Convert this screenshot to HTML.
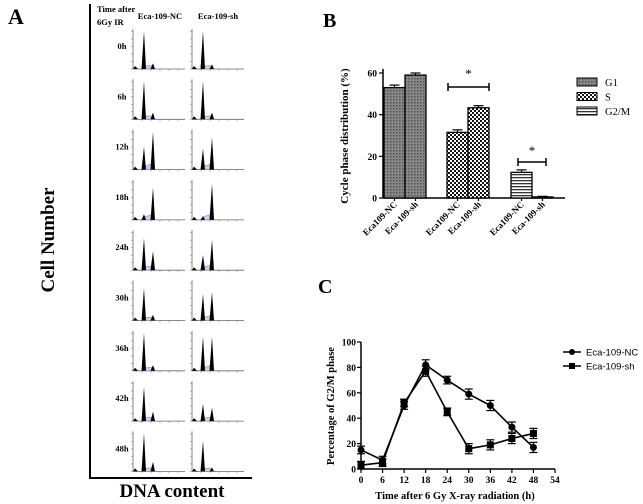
<!DOCTYPE html>
<html><head><meta charset="utf-8">
<style>
html,body{margin:0;padding:0;background:#fff;}
svg{display:block;font-family:"Liberation Serif",serif;}
</style></head>
<body>
<svg id="fig" width="643" height="504" viewBox="0 0 643 504">
<g id="panelA">
  <text x="8" y="24" font-size="22" font-weight="bold">A</text>
  <line x1="90" y1="4" x2="90" y2="479" stroke="#000" stroke-width="2"/>
  <line x1="89" y1="478" x2="252" y2="478" stroke="#000" stroke-width="2"/>
  <text transform="translate(54,240) rotate(-90)" text-anchor="middle" font-size="19" font-weight="bold">Cell Number</text>
  <text x="172" y="497" text-anchor="middle" font-size="19" font-weight="bold">DNA content</text>
  <text x="97" y="12" font-size="8.5" font-weight="bold">Time after</text>
  <text x="97" y="25" font-size="8.5" font-weight="bold">6Gy IR</text>
  <text x="160" y="19" text-anchor="middle" font-size="8.5" font-weight="bold">Eca-109-NC</text>
  <text x="218" y="19" text-anchor="middle" font-size="8.5" font-weight="bold">Eca-109-sh</text>
</g>
<g id="panelB">
  <text x="323" y="27" font-size="20" font-weight="bold">B</text>
</g>
<g id="panelC">
  <text x="318" y="293" font-size="20" font-weight="bold">C</text>
</g>
<defs>
  <pattern id="pG1" width="3" height="3" patternUnits="userSpaceOnUse"><rect width="3" height="3" fill="#888"/><rect width="1.5" height="1.5" fill="#555"/></pattern>
  <pattern id="pS" width="4" height="4" patternUnits="userSpaceOnUse"><rect width="4" height="4" fill="#fff"/><rect width="2" height="2" fill="#111"/><rect x="2" y="2" width="2" height="2" fill="#111"/></pattern>
  <pattern id="pG2" width="3" height="3" patternUnits="userSpaceOnUse"><rect width="3" height="3" fill="#fff"/><rect width="3" height="1.3" fill="#333"/></pattern>
</defs>
</svg>
<script>
// ---------- Panel A data ----------
var timeLabels = ["0h","6h","12h","18h","24h","30h","36h","42h","48h"];
var g1NC = [1.0,1.0,0.6,0.15,0.85,0.85,1.0,0.9,1.0];
var g2NC = [0.15,0.18,1.0,0.85,0.5,0.15,0.15,0.25,0.25];
var g1SH = [1.0,1.0,0.55,0.1,0.4,0.7,0.9,0.45,0.8];
var g2SH = [0.12,0.18,0.85,0.95,0.8,0.75,0.9,0.35,0.1];

// ---------- Panel B data ----------
var bCats = ["Eca109-NC","Eca-109-sh"];
var bPhases = ["G1","S","G2/M"];
var bNC = [53, 31.5, 12.3];
var bSH = [59, 43.3, 0.5];
var bErrNC = [1.2, 1.2, 1.2];
var bErrSH = [1.0, 1.0, 0.3];
var bTicks = [0,20,40,60];

// ---------- Panel C data ----------
var cTimes = [0,6,12,18,24,30,36,42,48];
var cNC = [15,7,50,82,70,59,50,33,17];
var cSH = [3,5,52,77,45,16,19,24,28];
var cErr = [3,3,3,4,3,4,4,4,4];
var cXTicks = [0,6,12,18,24,30,36,42,48,54];
var cYTicks = [0,20,40,60,80,100];

var NS = "http://www.w3.org/2000/svg";
function mk(tag, attrs, parent){
  var e = document.createElementNS(NS, tag);
  for (var k in attrs) e.setAttribute(k, attrs[k]);
  (parent || document.getElementById('fig')).appendChild(e);
  return e;
}

// ---------- Panel A histograms ----------
var gA = document.getElementById('panelA');
function hist(x0, y0, h1, h2, name){
  var g = mk('g', {}, gA);
  
  
  var H = 38, base = y0 + 42, w = 52;
  mk('line',{x1:x0,y1:y0+2,x2:x0,y2:base,stroke:'#666','stroke-width':0.8},g);
  mk('line',{x1:x0,y1:base,x2:x0+w,y2:base,stroke:'#666','stroke-width':0.8},g);
  for (var t=0;t<6;t++){ mk('line',{x1:x0-2,y1:base-t*7.5,x2:x0,y2:base-t*7.5,stroke:'#888','stroke-width':0.6},g); }
  for (var t=1;t<6;t++){ mk('line',{x1:x0+t*9,y1:base,x2:x0+t*9,y2:base+2,stroke:'#888','stroke-width':0.6},g); }
  var p1 = x0+11, p2 = x0+20;
  mk('path',{d:'M'+(p1)+' '+(base-3)+' L'+(p2)+' '+(base-3-3*h2)+' L'+p2+' '+base+' L'+p1+' '+base+'Z',fill:'#c7d3ea',stroke:'#7b8fc4','stroke-width':0.6},g);
  mk('path',{d:'M'+(p1-2.5)+' '+base+' L'+p1+' '+(base-H*h1)+' L'+(p1+2)+' '+base+'Z',fill:'#000'},g);
  mk('path',{d:'M'+(p2-2.5)+' '+base+' L'+p2+' '+(base-H*h2)+' L'+(p2+2)+' '+base+'Z',fill:'#000'},g);
  mk('path',{d:'M'+x0+' '+base+' L'+(x0+2)+' '+(base-3)+' L'+(x0+5)+' '+base+'Z',fill:'#000'},g);
}
for (var i=0;i<timeLabels.length;i++){
  var y0 = 27 + 50.3*i;
  var t = mk('text',{x:122,y:y0+22,'text-anchor':'middle','font-size':8.5,'font-weight':'bold'},gA);
  t.textContent = timeLabels[i];
  
  
  hist(133, y0, g1NC[i], g2NC[i], 'histogram-nc-'+timeLabels[i]);
  hist(192, y0, g1SH[i], g2SH[i], 'histogram-sh-'+timeLabels[i]);
}

// ---------- Panel B ----------
var gB = document.getElementById('panelB');
var bx0 = 383, by0 = 198, bScale = 125/60;
function by(v){ return by0 - v*bScale; }
mk('line',{x1:bx0,y1:by(62),x2:bx0,y2:by0,stroke:'#000','stroke-width':1.5},gB);
mk('line',{x1:bx0,y1:by0,x2:565,y2:by0,stroke:'#000','stroke-width':1.5},gB);
bTicks.forEach(function(v){
  mk('line',{x1:bx0-4,y1:by(v),x2:bx0,y2:by(v),stroke:'#000','stroke-width':1.2},gB);
  var t = mk('text',{x:bx0-6,y:by(v)+3.5,'text-anchor':'end','font-size':9.5,'font-weight':'bold'},gB);
  t.textContent = v;
  
  
});
var yt = mk('text',{transform:'translate(348,136) rotate(-90)','text-anchor':'middle','font-size':11,'font-weight':'bold'},gB);
yt.textContent = 'Cycle  phase distribution (%)';


var fills = ['url(#pG1)','url(#pS)','url(#pG2)'];
var groupX = [384, 447, 511], bw = 21;
for (var p=0;p<3;p++){
  var vals = [bNC[p], bSH[p]], errs = [bErrNC[p], bErrSH[p]];
  for (var c=0;c<2;c++){
    var x = groupX[p] + c*bw;
    var r = mk('rect',{x:x,y:by(vals[c]),width:bw,height:by0-by(vals[c]),fill:fills[p],stroke:'#000','stroke-width':1.3},gB);
    
    
    var barCx = x + bw/2;
    mk('line',{x1:barCx,y1:by(vals[c]+errs[c]),x2:barCx,y2:by(vals[c]),stroke:'#000','stroke-width':1.2},gB);
    mk('line',{x1:barCx-5,y1:by(vals[c]+errs[c]),x2:barCx+5,y2:by(vals[c]+errs[c]),stroke:'#000','stroke-width':1.2},gB);
    mk('line',{x1:barCx,y1:by0,x2:barCx,y2:by0+3,stroke:'#000','stroke-width':1.2},gB);
    var lt = mk('text',{transform:'translate('+(barCx+3)+','+(by0+7)+') rotate(-45)','text-anchor':'end','font-size':9,'font-weight':'bold'},gB);
    lt.textContent = bCats[c];
    
    
  }
}
[[448,489,87,69],[518,546,162,146]].forEach(function(s,i){
  mk('line',{x1:s[0],y1:s[2],x2:s[1],y2:s[2],stroke:'#000','stroke-width':1.5},gB);
  mk('line',{x1:s[0],y1:s[2]-4,x2:s[0],y2:s[2]+4,stroke:'#000','stroke-width':1.5},gB);
  mk('line',{x1:s[1],y1:s[2]-4,x2:s[1],y2:s[2]+4,stroke:'#000','stroke-width':1.5},gB);
  var st = mk('text',{x:(s[0]+s[1])/2,y:s[3]+9,'text-anchor':'middle','font-size':13},gB);
  st.textContent = '*';
  
  
});
bPhases.forEach(function(ph,i){
  var y = 78 + i*14.5;
  mk('rect',{x:577,y:y,width:20,height:8,fill:fills[i],stroke:'#000','stroke-width':1},gB);
  var t = mk('text',{x:605,y:y+8,'font-size':10.5},gB);
  t.textContent = ph;
  
  
});

// ---------- Panel C ----------
var gC = document.getElementById('panelC');
function xC(v){ return 361 + v*(194/54); }
function yC(v){ return 469 - v*1.27; }
mk('line',{x1:xC(0),y1:yC(100),x2:xC(0),y2:yC(0),stroke:'#000','stroke-width':1.5},gC);
mk('line',{x1:xC(0),y1:yC(0),x2:xC(54),y2:yC(0),stroke:'#000','stroke-width':1.5},gC);
cYTicks.forEach(function(v){
  mk('line',{x1:xC(0)-4,y1:yC(v),x2:xC(0),y2:yC(v),stroke:'#000','stroke-width':1.2},gC);
  var t = mk('text',{x:xC(0)-5,y:yC(v)+3.5,'text-anchor':'end','font-size':9.5,'font-weight':'bold'},gC);
  t.textContent = v;
  
  
});
cXTicks.forEach(function(v){
  mk('line',{x1:xC(v),y1:yC(0),x2:xC(v),y2:yC(0)+4,stroke:'#000','stroke-width':1.2},gC);
  var t = mk('text',{x:xC(v),y:yC(0)+14,'text-anchor':'middle','font-size':9.5,'font-weight':'bold'},gC);
  t.textContent = v;
  
  
});
var xt = mk('text',{x:455,y:499,'text-anchor':'middle','font-size':10.5,'font-weight':'bold'},gC);
xt.textContent = 'Time after 6 Gy  X-ray radiation (h)';


var cyt = mk('text',{transform:'translate(334,406) rotate(-90)','text-anchor':'middle','font-size':10.5,'font-weight':'bold'},gC);
cyt.textContent = 'Percentage  of G2/M phase';


function series(vals, square, name){
  var g = mk('g',{},gC);
  
  
  var d = vals.map(function(v,i){ return (i?'L':'M')+xC(cTimes[i])+' '+yC(v); }).join(' ');
  mk('path',{d:d,fill:'none',stroke:'#000','stroke-width':1.6},g);
  vals.forEach(function(v,i){
    var x = xC(cTimes[i]), y = yC(v), e = cErr[i]*1.27;
    mk('line',{x1:x,y1:y-e,x2:x,y2:y+e,stroke:'#000','stroke-width':1.2},g);
    mk('line',{x1:x-4,y1:y-e,x2:x+4,y2:y-e,stroke:'#000','stroke-width':1.2},g);
    mk('line',{x1:x-4,y1:y+e,x2:x+4,y2:y+e,stroke:'#000','stroke-width':1.2},g);
    if (square) mk('rect',{x:x-3.5,y:y-3.5,width:7,height:7,fill:'#000'},g);
    else mk('circle',{cx:x,cy:y,r:3.5,fill:'#000'},g);
  });
}
series(cNC, false, 'series-eca-109-nc');
series(cSH, true, 'series-eca-109-sh');
[['Eca-109-NC',false],['Eca-109-sh',true]].forEach(function(l,i){
  var y = 352 + i*14;
  mk('line',{x1:563,y1:y,x2:581,y2:y,stroke:'#000','stroke-width':1.6},gC);
  if (l[1]) mk('rect',{x:569,y:y-3,width:6,height:6,fill:'#000'},gC);
  else mk('circle',{cx:572,cy:y,r:3,fill:'#000'},gC);
  var t = mk('text',{x:586,y:y+3.5,'font-size':9.5,'font-family':'"Liberation Sans",sans-serif'},gC);
  t.textContent = l[0];
  
  
});
</script>
</body></html>
